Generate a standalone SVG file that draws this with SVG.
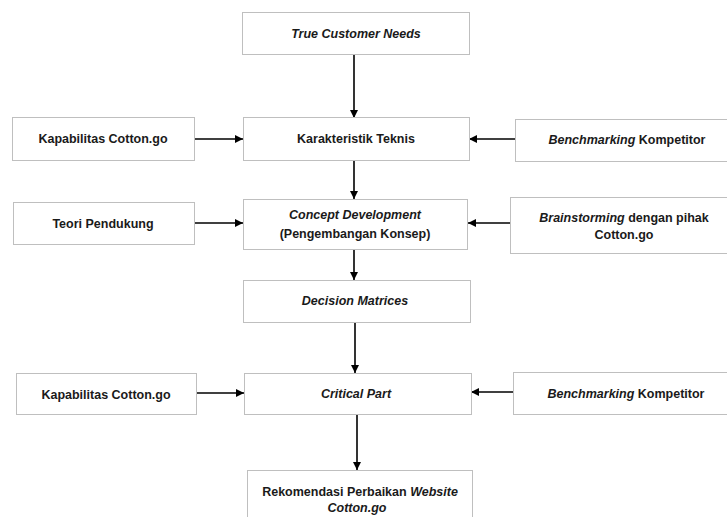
<svg xmlns="http://www.w3.org/2000/svg" width="727" height="517" viewBox="0 0 727 517">
<defs>
<style>
.box{fill:#fff;stroke:#bfbfbf;stroke-width:1}
.t{font-family:"Liberation Sans",Arial,sans-serif;font-size:12.5px;font-weight:bold;fill:#1a1a1a;text-anchor:middle}
.i{font-style:italic}
.c{fill:none;stroke:#000;stroke-width:1.6}
</style>
<marker id="ah" markerUnits="userSpaceOnUse" markerWidth="9" markerHeight="8" refX="8" refY="4" orient="auto">
<path d="M0,0 L8,4 L0,8 Z" fill="#000"/>
</marker>
</defs>
<rect width="727" height="517" fill="#fff"/>
<g id="connectors">
<path class="c" marker-end="url(#ah)" d="M354,54 V118"/>
<path class="c" marker-end="url(#ah)" d="M194,139 H243"/>
<path class="c" marker-end="url(#ah)" d="M515,139 H469"/>
<path class="c" marker-end="url(#ah)" d="M354,160 V199"/>
<path class="c" marker-end="url(#ah)" d="M194,223 H243"/>
<path class="c" marker-end="url(#ah)" d="M510,223 H468"/>
<path class="c" marker-end="url(#ah)" d="M354,249 V280"/>
<path class="c" marker-end="url(#ah)" d="M355,322 V373"/>
<path class="c" marker-end="url(#ah)" d="M196,393 H244"/>
<path class="c" marker-end="url(#ah)" d="M513,392 H471"/>
<path class="c" marker-end="url(#ah)" d="M357,414 V470"/>
</g>
<g id="true-customer-needs">
<rect class="box" x="242.5" y="12.5" width="227" height="42"/>
<text class="t i" x="356" y="38">True Customer Needs</text>
</g>
<g id="kapabilitas-1">
<rect class="box" x="12.5" y="117.5" width="182" height="43"/>
<text class="t" x="103" y="143">Kapabilitas Cotton.go</text>
</g>
<g id="karakteristik-teknis">
<rect class="box" x="243.5" y="117.5" width="226" height="43"/>
<text class="t" x="356" y="143">Karakteristik Teknis</text>
</g>
<g id="benchmarking-1">
<rect class="box" x="515.5" y="119.5" width="225" height="42"/>
<text class="t" x="627" y="144"><tspan class="i">Benchmarking</tspan> Kompetitor</text>
</g>
<g id="teori-pendukung">
<rect class="box" x="13.5" y="202.5" width="181" height="42"/>
<text class="t" x="103" y="228">Teori Pendukung</text>
</g>
<g id="concept-development">
<rect class="box" x="243.5" y="199.5" width="224" height="50"/>
<text class="t" x="355" y="219"><tspan class="i">Concept Development</tspan></text>
<text class="t" x="355" y="238">(Pengembangan Konsep)</text>
</g>
<g id="brainstorming">
<rect class="box" x="510.5" y="197.5" width="228" height="56"/>
<text class="t" x="624" y="222"><tspan class="i">Brainstorming</tspan> dengan pihak</text>
<text class="t" x="624" y="239">Cotton.go</text>
</g>
<g id="decision-matrices">
<rect class="box" x="243.5" y="280.5" width="227" height="42"/>
<text class="t i" x="355" y="305">Decision Matrices</text>
</g>
<g id="kapabilitas-2">
<rect class="box" x="16.5" y="373.5" width="180" height="41"/>
<text class="t" x="106" y="399">Kapabilitas Cotton.go</text>
</g>
<g id="critical-part">
<rect class="box" x="244.5" y="373.5" width="227" height="41"/>
<text class="t i" x="356" y="398">Critical Part</text>
</g>
<g id="benchmarking-2">
<rect class="box" x="513.5" y="372.5" width="226" height="42"/>
<text class="t" x="626" y="398"><tspan class="i">Benchmarking</tspan> Kompetitor</text>
</g>
<g id="rekomendasi">
<rect class="box" x="247.5" y="470.5" width="225" height="60"/>
<text class="t" x="360" y="496">Rekomendasi Perbaikan <tspan class="i">Website</tspan></text>
<text class="t i" x="357" y="512">Cotton.go</text>
</g>
</svg>
